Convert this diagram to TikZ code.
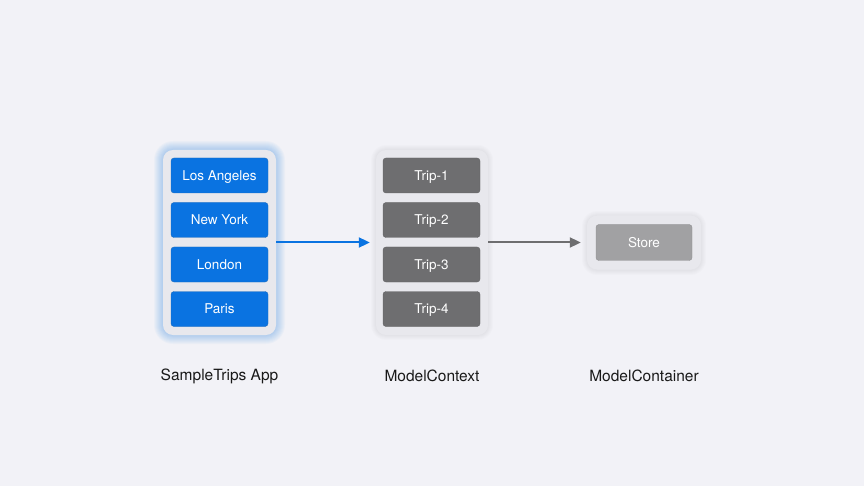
\documentclass[tikz,border=0pt]{standalone}
\usepackage{fontspec}
\setmainfont{TeX Gyre Heros}
\usetikzlibrary{arrows.meta}
\definecolor{bgcol}{HTML}{F2F2F7}
\definecolor{panelcol}{HTML}{E8E8ED}
\definecolor{appblue}{HTML}{0A73E1}
\definecolor{tripgray}{HTML}{6E6E70}
\definecolor{storegray}{HTML}{A1A1A3}
\tikzset{
  panel/.style={fill=panelcol, rounded corners=10pt, draw=none},
  item/.style={rounded corners=3pt, minimum width=97pt, minimum height=35pt, text=white, font=\fontsize{13.5}{16}\selectfont, inner sep=0pt, text height=9.7pt, text depth=0pt},
  city/.style={item, fill=appblue, draw=appblue!80!black!90},
  trip/.style={item, fill=tripgray, draw=tripgray!90!black},
  caption/.style={font=\fontsize{15.5}{18}\selectfont, text=black!90},
  link/.style={line width=2pt, -{Triangle[length=11pt,width=10pt]}, shorten >=6pt}
}
\begin{document}
\begin{tikzpicture}[x=1pt,y=-1pt]

\fill[bgcol] (0,0) rectangle (864,486);

% blue glow behind the app panel
\foreach \g in {1,...,9}
  \fill[appblue, opacity=0.03, rounded corners=10pt+\g pt] (163-\g,150-\g) rectangle (276+\g,335+\g);
% soft halos behind the other panels
\foreach \g in {1,...,5} {
  \fill[black, opacity=0.012, rounded corners=10pt+\g pt] (376-\g,150-\g) rectangle (488+\g,335+\g);
  \fill[black, opacity=0.012, rounded corners=10pt+\g pt] (587-\g,216-\g) rectangle (701+\g,270+\g);
}

% app side
\node[panel, minimum width=113pt, minimum height=185pt] (app) at (219.5,242.5) {};
\node[city] (la) at (219.5,175.5) {Los Angeles};
\node[city] (ny) at (219.5,220) {New York};
\node[city] (ldn) at (219.5,264.5) {London};
\node[city] (par) at (219.5,309) {Paris};
\node[caption] (applbl) at (219.5,376) {SampleTrips App};

% context
\node[panel, minimum width=112pt, minimum height=185pt] (ctx) at (432,242.5) {};
\node[trip] (t1) at (431.5,175.5) {Trip-1};
\node[trip] (t2) at (431.5,220) {Trip-2};
\node[trip] (t3) at (431.5,264.5) {Trip-3};
\node[trip] (t4) at (431.5,309) {Trip-4};
\node[caption] (ctxlbl) at (432,376) {ModelContext};

% container
\node[panel, minimum width=114pt, minimum height=54pt] (cont) at (644,242.5) {};
\node[item, fill=storegray, draw=storegray!90!black, minimum width=96pt, minimum height=36pt] (store) at (644,242.5) {Store};
\node[caption] (contlbl) at (644,376) {ModelContainer};

\draw[link, appblue] (app.east) -- (ctx.west);
\draw[link, tripgray] (ctx.east) -- (cont.west);
\end{tikzpicture}
\end{document}
